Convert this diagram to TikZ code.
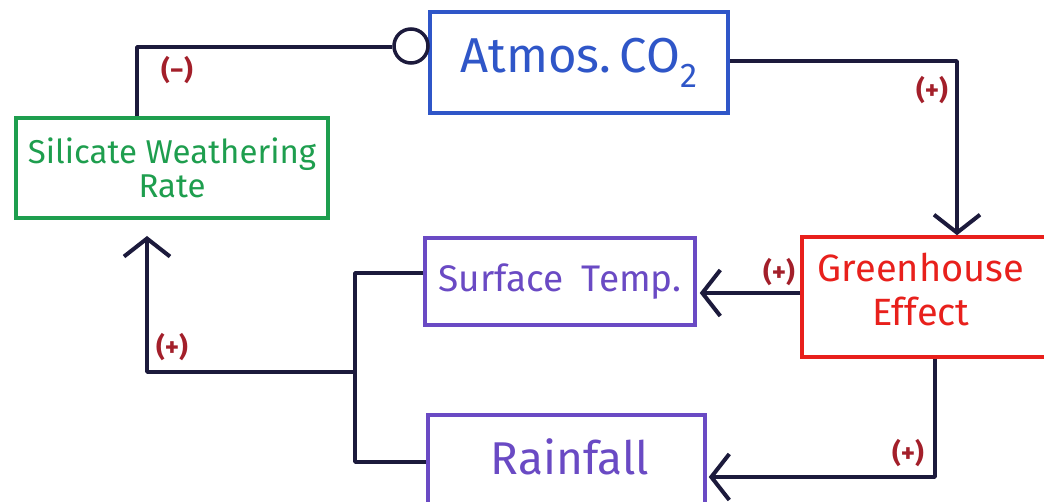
\documentclass[tikz,border=0pt]{standalone}
\usepackage{fontspec}
\setmainfont{Fira Sans}
\usetikzlibrary{arrows.meta}
\definecolor{cblue}{HTML}{2F56C8}
\definecolor{cgreen}{HTML}{1E9E4E}
\definecolor{cred}{HTML}{E8201C}
\definecolor{cpurple}{HTML}{6A4AC4}
\definecolor{cdark}{HTML}{1C1A3C}
\definecolor{clabel}{HTML}{A31F2A}
\tikzset{
  box/.style={draw, line width=3.5pt, inner sep=0pt, align=center},
  conn/.style={draw=cdark, line width=3.5pt, line join=round},
  arr/.style={conn, -{Straight Barb[length=18pt,width=46pt,line width=4pt]}},
  sign/.style={text=clabel, font=\bfseries\fontsize{27}{30}\selectfont},
}
\begin{document}
\begin{tikzpicture}[x=1pt,y=-1pt]
\useasboundingbox[fill=white] (0,0) rectangle (1044,502);
\begin{scope}
\clip (0,0) rectangle (1044,502);
% boxes
\node[box, draw=cblue, text=cblue, minimum width=298pt, minimum height=101pt, font=\fontsize{49}{52}\selectfont] (co2) at (579,62.5) {Atmos.\,CO\textsubscript{2}};
\node[box, draw=cgreen, text=cgreen, minimum width=312pt, minimum height=100pt, font=\fontsize{33}{34}\selectfont] (sil) at (172,168) {Silicate Weathering\\Rate};
\node[box, draw=cred, minimum width=250pt, minimum height=120pt] (gh) at (927,297) {};
\node[text=cred, font=\fontsize{38}{44}\selectfont, align=center] (ghtext) at (921,290) {Greenhouse\\Effect};
\node[box, draw=cpurple, text=cpurple, minimum width=270pt, minimum height=87pt, font=\fontsize{37}{40}\selectfont] (st) at (560,281.5) {Surface\enspace Temp.};
\node[box, draw=cpurple, minimum width=277pt, minimum height=90pt] (rain) at (566.5,460) {};
\node[text=cpurple, font=\fontsize{46}{50}\selectfont] (raintext) at (570,457) {Rainfall};
% inhibition circle
\node[draw=cdark, line width=3.5pt, circle, minimum size=34pt, inner sep=0pt] (circ) at (411,46) {};
% coordinates
\coordinate (c1) at (137,47);
\coordinate (c2) at (957,61);
\coordinate (c3) at (0,293);
\coordinate (c4) at (935,477);
\coordinate (c5) at (355,273);
\coordinate (c6) at (355,462);
\coordinate (c7) at (355,372);
\coordinate (c8) at (147,372);
\coordinate (c9) at (147,236);
% connectors
\draw[conn] (circ.west |- c1) -- (c1) -- (c1 |- sil.north);
\draw[arr] (co2.east |- c2) -- (c2) -- (c2 |- gh.north);
\draw[arr] (gh.west |- c3) -- ([xshift=3pt]st.east |- c3);
\draw[arr] (c4 |- gh.south) -- (c4) -- ([xshift=2pt]rain.east |- c4);
\draw[conn] (st.west |- c5) -- (c5) -- (c6) -- (rain.west |- c6);
\draw[arr] (c7) -- (c8) -- (c9);
% signs
\node[sign] (s1) at (177,70) {(−)};
\node[sign] (s2) at (932,90) {(+)};
\node[sign] (s3) at (779,272) {(+)};
\node[sign] (s4) at (908,453) {(+)};
\node[sign] (s5) at (172,347) {(+)};
\end{scope}
\end{tikzpicture}
\end{document}
